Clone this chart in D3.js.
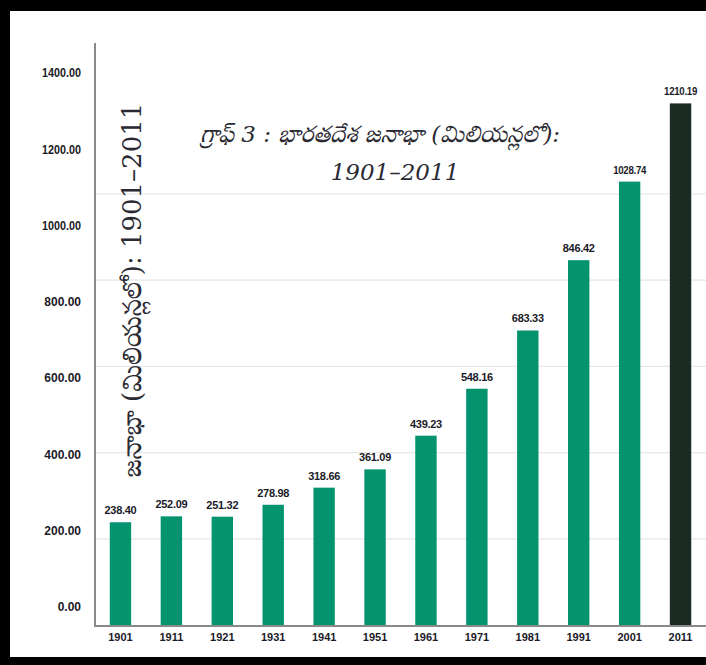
<!DOCTYPE html>
<html>
<head>
<meta charset="utf-8">
<script src="https://cdn.jsdelivr.net/npm/d3@7"></script>
<style>
    html, body { margin: 0; padding: 0; background: #fff; }
    #wrapper { width: 706px; height: 665px; }
</style>
</head>
<body>
<div id="wrapper"></div>
<script>
const years = ["1901", "1911", "1921", "1931", "1941", "1951", "1961", "1971", "1981", "1991", "2001", "2011"]
const population = [238.40, 252.09, 251.32, 278.98, 318.66, 361.09, 439.23, 548.16, 683.33, 846.42, 1028.74, 1210.19]
const tickValues = [0, 200, 400, 600, 800, 1000, 1200, 1400]
const gridValues = [200, 400, 600, 800, 1000]
const titleLines = ["గ్రాఫ్ 3 : భారతదేశ జనాభా (మిలియన్లలో):", "1901–2011"]
const yTitle = "జనాభా (మిలియన్లలో): 1901–2011"

window.addEventListener("load", paint)

function paint() {
    const dimensions = getDimensions()

    const svg = d3.select("#wrapper")
        .append("svg")
            .attr("width", dimensions.width)
            .attr("height", dimensions.height)

    // frame
    svg.append("rect")
        .attr("width", dimensions.width).attr("height", dimensions.height)
        .attr("fill", "#000")
    svg.append("rect")
        .attr("x", 10).attr("y", 11)
        .attr("width", dimensions.width - 10).attr("height", 646)
        .attr("fill", "#fff")

    svg.call(drawChart, dimensions)
}

function drawChart(container, dimensions) {
    const x = d3.scaleBand()
        .domain(years)
        .range([dimensions.left, dimensions.width])
        .paddingInner(0.58)
        .paddingOuter(0.29)

    // bars are measured on this scale
    const y = d3.scaleLinear()
        .domain([0, 1000])
        .range([dimensions.baseline, 194])

    // the printed tick labels sit on their own spacing
    const yLabels = d3.scaleLinear()
        .domain([0, 1400])
        .range([607, 73])

    // gridlines
    container.append("g")
        .selectAll("line")
        .data(gridValues)
        .join("line")
            .attr("x1", dimensions.left).attr("x2", dimensions.width)
            .attr("y1", d => y(d)).attr("y2", d => y(d))
            .attr("stroke", "#e6e6e6").attr("stroke-width", 1.2)

    // bars
    container.append("g")
        .selectAll("rect")
        .data(population)
        .join("rect")
            .attr("x", (d, i) => x(years[i]))
            .attr("width", x.bandwidth())
            .attr("y", d => y(d))
            .attr("height", d => y(0) - y(d))
            .attr("fill", (d, i) => i === years.length - 1 ? "#1c2a24" : "#03936f")

    // value labels
    container.append("g")
        .selectAll("text")
        .data(population)
        .join("text")
            .attr("x", (d, i) => x(years[i]) + x.bandwidth() / 2)
            .attr("y", d => y(d) - 8)
            .attr("text-anchor", "middle")
            .attr("font-family", "'Liberation Sans', Arial, sans-serif")
            .attr("font-weight", "bold")
            .attr("font-size", 11)
            .attr("letter-spacing", -0.3)
            .attr("fill", "#1b1b28")
            .text(d => d.toFixed(2))
            .each(function() {
                if (this.getComputedTextLength() > 33) {
                    d3.select(this).attr("textLength", 33).attr("lengthAdjust", "spacingAndGlyphs")
                }
            })

    // axis lines
    container.append("line")
        .attr("x1", dimensions.left).attr("x2", dimensions.left)
        .attr("y1", 43).attr("y2", dimensions.baseline + 1)
        .attr("stroke", "#8a8a8a").attr("stroke-width", 2)
    container.append("line")
        .attr("x1", dimensions.left - 1).attr("x2", dimensions.width)
        .attr("y1", dimensions.baseline + 1).attr("y2", dimensions.baseline + 1)
        .attr("stroke", "#8a8a8a").attr("stroke-width", 2)

    // y tick labels
    const yAxis = container.append("g")
        .attr("transform", `translate(81,0)`)
        .call(d3.axisLeft(yLabels).tickValues(tickValues).tickFormat(d3.format(".2f")).tickSize(0).tickPadding(0))
    yAxis.select(".domain").remove()
    yAxis.selectAll("text")
        .attr("font-family", "'Liberation Sans', Arial, sans-serif")
        .attr("font-weight", "bold")
        .attr("font-size", 12)
        .attr("fill", "#1b1b28")
        .each(function() {
            if (this.getComputedTextLength() > 39) {
                d3.select(this).attr("textLength", 39).attr("lengthAdjust", "spacingAndGlyphs")
            }
        })

    // x tick labels
    const xAxis = container.append("g")
        .attr("transform", `translate(0,${dimensions.baseline + 1})`)
        .call(d3.axisBottom(x).tickSize(0).tickPadding(7))
    xAxis.select(".domain").remove()
    xAxis.selectAll("text")
        .attr("font-family", "'Liberation Sans Narrow', 'Liberation Sans', Arial, sans-serif")
        .attr("font-weight", "bold")
        .attr("font-size", 11)
        .attr("fill", "#1b1b28")

    // title
    const telugu = "'DejaVu Serif', 'Noto Serif Telugu', 'Noto Sans Telugu', Gautami, serif"
    container.append("text")
        .attr("x", 380).attr("y", 142)
        .attr("text-anchor", "middle")
        .attr("font-family", telugu)
        .attr("font-style", "italic")
        .attr("font-size", 23)
        .attr("fill", "#2a2a33")
        .text(titleLines[0])
    container.append("text")
        .attr("x", 395).attr("y", 180)
        .attr("text-anchor", "middle")
        .attr("font-family", telugu)
        .attr("font-style", "italic")
        .attr("font-size", 23)
        .attr("fill", "#2a2a33")
        .text(titleLines[1])

    // y title
    container.append("text")
        .attr("transform", "translate(141,290) rotate(-90)")
        .attr("text-anchor", "middle")
        .attr("font-family", telugu)
        .attr("font-size", 26)
        .attr("fill", "#2a2a33")
        .text(yTitle)
}

function getDimensions() {
    return {
        width: 706,
        height: 665,
        left: 95,
        baseline: 625,
    }
}
</script>
</body>
</html>
